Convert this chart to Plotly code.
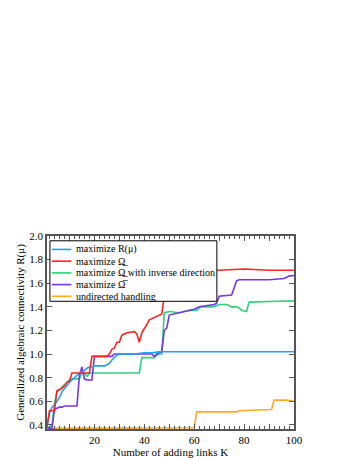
import plotly.graph_objects as go

# ---------------- data ----------------
names = ["maximize R(\u03bc)", "maximize \u03a9\u0332", "maximize \u03a9\u0332 with inverse direction",
         "maximize \u03a9\u0305", "undirected handling"]
colors = ["#1AA3FF", "#FF2424", "#2DD27A", "#7A34E6", "#FFAA1E"]

blue_x = [1, 2, 3, 4, 5, 6, 7, 8, 9, 10, 11, 12, 13, 14, 15, 16, 17, 18, 19, 20, 22, 24, 25, 26, 27,
          28, 29, 30, 33, 36, 40, 43, 46, 50, 60, 70, 80, 90, 100]
blue_y = [0.38, 0.50, 0.55, 0.57, 0.60, 0.63, 0.68, 0.71, 0.74, 0.76, 0.78, 0.80, 0.82, 0.84, 0.85,
          0.86, 0.88, 0.89, 0.89, 0.90, 0.90, 0.90, 0.91, 0.92, 0.95, 0.97, 0.99, 1.00, 1.00, 1.00,
          1.01, 1.01, 1.02, 1.02, 1.02, 1.02, 1.02, 1.02, 1.02]

red_x = [1, 2, 3, 4, 5, 6, 7, 8, 9, 10, 11, 12, 15, 18, 19, 20, 24, 25, 26, 27, 28, 29, 30, 31, 33,
         36, 37, 38, 39, 40, 41, 42, 43, 44, 45, 46, 47, 48, 49, 50, 51, 52, 53, 54, 55, 56, 57, 58,
         59, 60, 62, 70, 80, 90, 100]
red_y = [0.38, 0.52, 0.52, 0.52, 0.69, 0.70, 0.71, 0.73, 0.76, 0.77, 0.84, 0.84, 0.84, 0.84, 0.98,
         0.98, 0.98, 0.98, 1.00, 1.04, 1.05, 1.10, 1.10, 1.16, 1.18, 1.19, 1.17, 1.10, 1.18, 1.21,
         1.25, 1.29, 1.30, 1.31, 1.32, 1.33, 1.34, 1.49, 1.51, 1.52, 1.55, 1.60, 1.60, 1.58, 1.55,
         1.63, 1.64, 1.67, 1.68, 1.70, 1.71, 1.71, 1.72, 1.71, 1.71]

green_x = [1, 2, 3, 4, 5, 6, 7, 8, 9, 10, 11, 14, 15, 16, 17, 18, 25, 30, 38, 39, 44, 45, 46, 47,
           48, 50, 54, 56, 58, 61, 62, 63, 67, 69, 70, 73, 74, 75, 77, 78, 79, 81, 82, 85, 90, 100]
green_y = [0.38, 0.38, 0.40, 0.58, 0.68, 0.69, 0.72, 0.74, 0.76, 0.78, 0.79, 0.79, 0.84, 0.84, 0.81,
           0.84, 0.84, 0.84, 0.84, 0.97, 0.97, 0.99, 1.00, 1.00, 1.35, 1.36, 1.35, 1.36, 1.37, 1.37,
           1.39, 1.40, 1.40, 1.41, 1.42, 1.42, 1.41, 1.40, 1.40, 1.39, 1.37, 1.36, 1.44, 1.44, 1.445,
           1.45]

purple_x = [1, 2, 3, 4, 5, 6, 7, 8, 13, 14, 15, 16, 17, 18, 19, 20, 25, 27, 28, 35, 43, 44, 45, 46,
            47, 48, 49, 50, 52, 55, 58, 60, 62, 65, 68, 69, 70, 75, 76, 77, 78, 90, 96, 98, 100]
purple_y = [0.38, 0.37, 0.37, 0.53, 0.54, 0.55, 0.55, 0.56, 0.56, 0.82, 0.89, 0.79, 0.78, 0.78, 0.78,
            0.98, 0.98, 0.98, 1.00, 1.00, 1.00, 0.98, 1.00, 1.01, 1.02, 1.20, 1.22, 1.33, 1.34,
            1.35, 1.37, 1.38, 1.40, 1.41, 1.42, 1.43, 1.49, 1.50, 1.56, 1.62, 1.63, 1.63, 1.64, 1.66,
            1.665]

orange_x = [1, 20, 40, 60, 61, 77, 78, 90, 91, 92, 97, 100]
orange_y = [0.37, 0.372, 0.373, 0.375, 0.51, 0.51, 0.52, 0.525, 0.53, 0.61, 0.61, 0.60]

x_tick_vals = [10, 20, 30, 40, 50, 60, 70, 80, 90, 100]
x_tick_text = ["", "20", "", "40", "", "60", "", "80", "", "100"]
y_tick_vals = [0.4, 0.6, 0.8, 1.0, 1.2, 1.4, 1.6, 1.8, 2.0]

series = [(blue_x, blue_y), (red_x, red_y), (green_x, green_y), (purple_x, purple_y),
          (orange_x, orange_y)]

# ---------------- figure ----------------
FONT = "Liberation Serif"
fig = go.Figure()
order = [4, 2, 3, 0, 1]
for i in order:
    xs, ys = series[i]
    fig.add_trace(go.Scatter(x=xs, y=ys, mode="lines", name=names[i],
                             line=dict(color=colors[i], width=1.6), showlegend=False))

# manual legend (compact, boxed)
W, H = 253.0, 201.0
def px(v):
    return v / W
def py(v):
    return 1 - v / H
box_l, box_t, box_r, box_b = 3, 5, 174, 68
fig.add_shape(type="rect", xref="paper", yref="paper", x0=px(box_l), x1=px(box_r),
              y0=py(box_b), y1=py(box_t), line=dict(color="black", width=1),
              fillcolor="white", layer="above")
row0, row_gap = 14, 12.2
for k in range(5):
    yy = py(row0 + k * row_gap)
    fig.add_shape(type="line", xref="paper", yref="paper", x0=px(5), x1=px(25), y0=yy, y1=yy,
                  line=dict(color=colors[k], width=1.6), layer="above")
    fig.add_annotation(xref="paper", yref="paper", x=px(28), y=yy, text=names[k],
                       showarrow=False, xanchor="left", yanchor="middle",
                       font=dict(family=FONT, size=10, color="black"))

axis_common = dict(showline=True, linecolor="#555555", linewidth=1.5, mirror="ticks",
                   ticks="inside", ticklen=5, tickwidth=1, tickcolor="#555555",
                   showgrid=False, zeroline=False,
                   tickfont=dict(family=FONT, size=11, color="black"))

fig.update_layout(
    width=354, height=458,
    margin=dict(l=33, r=68, t=228, b=29),
    paper_bgcolor="white", plot_bgcolor="white",
    font=dict(family=FONT, size=11, color="black"),
    xaxis=dict(range=[1, 100], tickmode="array", tickvals=x_tick_vals, ticktext=x_tick_text,
               title=dict(text="Number of adding links K", standoff=0,
                          font=dict(family=FONT, size=11)),
               minor=dict(tickmode="linear", tick0=0, dtick=2, ticks="inside", ticklen=3,
                          tickcolor="#555555"),
               **axis_common),
    yaxis=dict(range=[0.365, 2.0], tickmode="array", tickvals=y_tick_vals,
               tickformat=".1f",
               title=dict(text="Generalized algebraic connectivity R(\u03bc)", standoff=2,
                          font=dict(family=FONT, size=11)),
               **axis_common),
)

fig.write_html("out.html")
